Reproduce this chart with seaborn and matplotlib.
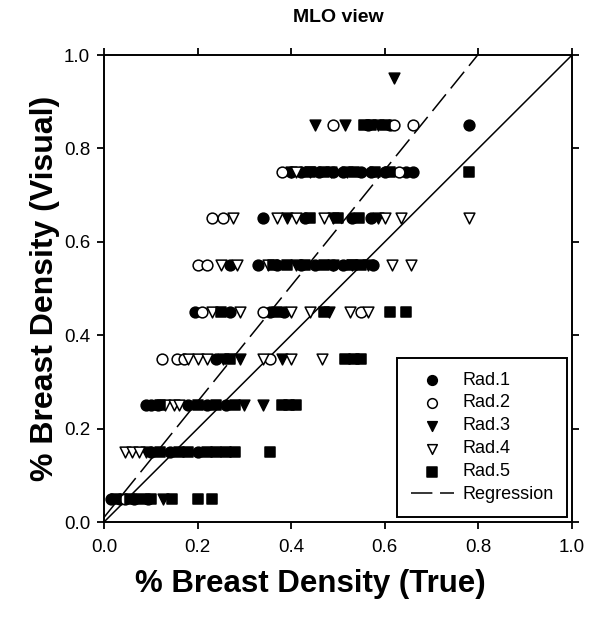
import numpy as np
import pandas as pd
import matplotlib
matplotlib.use('Agg')
import matplotlib.pyplot as plt
import seaborn as sns

# visual density levels (bins) and true density estimates per radiologist
rad1_true = [0.565, 0.61, 0.78,
             0.40, 0.42, 0.46, 0.49, 0.51, 0.55, 0.57, 0.60, 0.645, 0.66,
             0.34, 0.43, 0.53, 0.57,
             0.27, 0.33, 0.37, 0.42, 0.45, 0.49, 0.51, 0.575,
             0.195, 0.27, 0.355, 0.385,
             0.24,
             0.09, 0.10, 0.115, 0.18, 0.22, 0.26,
             0.10, 0.14, 0.20,
             0.015, 0.035, 0.065, 0.095]
rad1_vis = [0.85] * 3 + [0.75] * 10 + [0.65] * 4 + [0.55] * 8 + [0.45] * 4 + [0.35] * 1 \
    + [0.25] * 6 + [0.15] * 3 + [0.05] * 4

rad2_true = [0.49, 0.62, 0.66,
             0.38, 0.63,
             0.23, 0.255,
             0.20, 0.22,
             0.21, 0.34, 0.55,
             0.124, 0.155, 0.17, 0.355,
             0.045]
rad2_vis = [0.85] * 3 + [0.75] * 2 + [0.65] * 2 + [0.55] * 2 + [0.45] * 3 + [0.35] * 4 + [0.05] * 1

rad3_true = [0.62,
             0.45, 0.515, 0.585,
             0.40, 0.44, 0.485, 0.52,
             0.39, 0.49, 0.585,
             0.41, 0.49, 0.565,
             0.48,
             0.255, 0.29, 0.38,
             0.30, 0.34,
             0.09,
             0.125]
rad3_vis = [0.95] + [0.85] * 3 + [0.75] * 4 + [0.65] * 3 + [0.55] * 3 + [0.45] * 1 \
    + [0.35] * 3 + [0.25] * 2 + [0.15] * 1 + [0.05] * 1

rad4_true = [0.41,
             0.276, 0.37, 0.41, 0.47, 0.60, 0.635, 0.78,
             0.25, 0.285, 0.35, 0.53, 0.615, 0.655,
             0.23, 0.29, 0.40, 0.44, 0.525, 0.565,
             0.18, 0.20, 0.22, 0.34, 0.40, 0.465,
             0.13, 0.15, 0.16,
             0.045, 0.06, 0.075]
rad4_vis = [0.75] * 1 + [0.65] * 7 + [0.55] * 6 + [0.45] * 6 + [0.35] * 6 + [0.25] * 3 + [0.15] * 3

rad5_true = [0.555, 0.57, 0.60,
             0.44, 0.47, 0.535, 0.58, 0.61, 0.78,
             0.44, 0.50, 0.545,
             0.36, 0.39, 0.43, 0.47, 0.53, 0.55,
             0.25, 0.37, 0.47, 0.61, 0.645,
             0.27, 0.515, 0.535, 0.55,
             0.12, 0.20, 0.24, 0.28, 0.38, 0.395, 0.41,
             0.12, 0.16, 0.18, 0.22, 0.24, 0.26, 0.28, 0.355,
             0.025, 0.055, 0.08, 0.10, 0.145, 0.20, 0.23]
rad5_vis = [0.85] * 3 + [0.75] * 6 + [0.65] * 3 + [0.55] * 6 + [0.45] * 5 + [0.35] * 4 \
    + [0.25] * 7 + [0.15] * 8 + [0.05] * 7

reg_slope = 1.24
reg_intercept = 0.01

rads = {
    'Rad.1': (rad1_true, rad1_vis, 'o', 'black'),
    'Rad.2': (rad2_true, rad2_vis, 'o', 'white'),
    'Rad.3': (rad3_true, rad3_vis, 'v', 'black'),
    'Rad.4': (rad4_true, rad4_vis, 'v', 'white'),
    'Rad.5': (rad5_true, rad5_vis, 's', 'black'),
}

sns.set_style('ticks')
plt.rcParams['font.family'] = ['Liberation Sans', 'DejaVu Sans']
plt.rcParams['text.color'] = 'black'
plt.rcParams['axes.labelcolor'] = 'black'

fig = plt.figure(figsize=(5.89, 6.19), dpi=100)
ax = fig.add_axes([0.1766, 0.1567, 0.7946, 0.7544])

for name, (xs, ys, mk, fc) in rads.items():
    df = pd.DataFrame({'true': xs, 'visual': ys})
    sns.scatterplot(data=df, x='true', y='visual', marker=mk, color=fc,
                    edgecolor='black', linewidth=1.1, s=60, ax=ax, label=name, zorder=3)

# line of identity
line_x = np.array([0.0, 1.0])
ax.plot(line_x, line_x, color='black', lw=1.1, zorder=2)

# regression line
reg_x = np.array([0.0, (1.0 - reg_intercept) / reg_slope])
ax.plot(reg_x, reg_slope * reg_x + reg_intercept, color='black', lw=1.1,
        dashes=(14, 5), label='Regression', zorder=2)

ax.set_xlim(0, 1)
ax.set_ylim(0, 1)
ax.set_xticks(np.arange(0, 1.01, 0.2))
ax.set_yticks(np.arange(0, 1.01, 0.2))
ax.xaxis.set_major_formatter(matplotlib.ticker.FormatStrFormatter('%.1f'))
ax.yaxis.set_major_formatter(matplotlib.ticker.FormatStrFormatter('%.1f'))
ax.tick_params(direction='out', length=5, width=1.3, top=True, right=True,
               labeltop=False, labelright=False, labelsize=13.5, colors='black')
ax.tick_params(axis='x', pad=7)
ax.tick_params(axis='y', pad=5)
for sp in ax.spines.values():
    sp.set_visible(True)
    sp.set_linewidth(1.4)
    sp.set_color('black')

ax.set_title('MLO view', fontsize=14, fontweight='bold', pad=24, color='black')
ax.set_xlabel('% Breast Density (True)', fontsize=22.5, fontweight='bold', color='black')
ax.set_ylabel('% Breast Density (Visual)', fontsize=23, fontweight='bold', color='black')
ax.xaxis.set_label_coords(0.44, -0.10)
ax.yaxis.set_label_coords(-0.095, 0.5)

leg = ax.legend(loc='lower right', bbox_to_anchor=(0.989, 0.011), borderaxespad=0,
                fontsize=13, frameon=True, fancybox=False, edgecolor='black',
                framealpha=1, handlelength=2.4, handletextpad=0.45,
                labelspacing=0.33, borderpad=0.75, markerscale=0.9)
leg.get_frame().set_linewidth(1.4)

fig.savefig('out.png', dpi=100)
